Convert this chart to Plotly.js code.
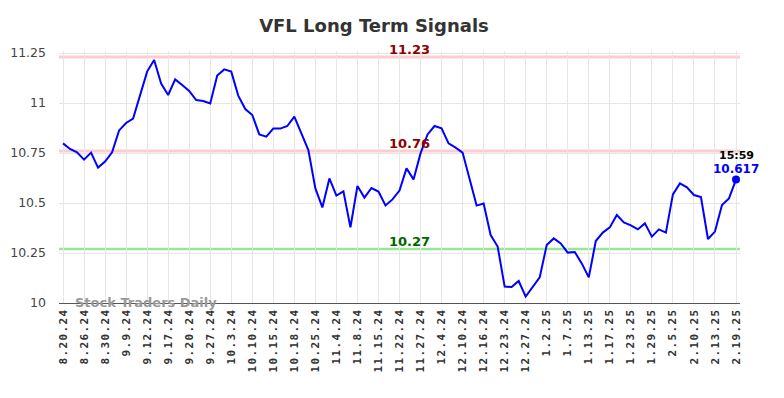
<!DOCTYPE html>
<html>
<head>
<meta charset="utf-8">
<script src="https://cdn.plot.ly/plotly-3.0.1.min.js"></script>
<style>
html,body{margin:0;padding:0;background:#fff;}
#chart{width:784px;height:398px;}
.xtick text{letter-spacing:1.4px;}
</style>
</head>
<body>
<div id="chart"></div>
<script>
const prices = [
  10.798, 10.770, 10.753, 10.717, 10.752, 10.677, 10.707, 10.753, 10.863, 10.900,
  10.922, 11.040, 11.157, 11.215, 11.097, 11.040, 11.118, 11.090, 11.060, 11.015,
  11.010, 10.998, 11.137, 11.168, 11.157, 11.037, 10.970, 10.940, 10.843, 10.832,
  10.872, 10.872, 10.885, 10.932, 10.850, 10.765, 10.573, 10.478, 10.623, 10.537,
  10.558, 10.378, 10.585, 10.527, 10.575, 10.557, 10.488, 10.518, 10.562, 10.673,
  10.618, 10.748, 10.843, 10.885, 10.873, 10.798, 10.777, 10.752, 10.620, 10.487,
  10.497, 10.340, 10.282, 10.082, 10.080, 10.110, 10.032, 10.082, 10.128, 10.290,
  10.323, 10.298, 10.252, 10.255, 10.198, 10.128, 10.310, 10.352, 10.378, 10.440,
  10.403, 10.388, 10.368, 10.398, 10.332, 10.368, 10.352, 10.543, 10.598, 10.578,
  10.540, 10.530, 10.320, 10.357, 10.490, 10.523, 10.617
];
// Tick labels, one every third point
const tickLabels = [
  "8.20.24","8.26.24","8.30.24","9.9.24","9.12.24","9.17.24","9.20.24","9.27.24",
  "10.3.24","10.10.24","10.15.24","10.18.24","10.25.24","11.4.24","11.8.24","11.15.24",
  "11.22.24","11.27.24","12.4.24","12.10.24","12.16.24","12.23.24","12.27.24","1.2.25",
  "1.7.25","1.13.25","1.17.25","1.23.25","1.29.25","2.5.25","2.10.25","2.13.25","2.19.25"
];
const tickStep = 3;
// Signal levels
const upperLevel = 11.23;
const middleLevel = 10.76;
const lowerLevel = 10.27;
const lastTime = "15:59";

const xIdx = prices.map((_, i) => i);
const tickVals = tickLabels.map((_, i) => i * tickStep);
const lastI = prices.length - 1;

const traces = [
  {
    x: xIdx, y: prices, type: 'scatter', mode: 'lines',
    line: {color: '#0000ff', width: 2}, hoverinfo: 'skip'
  },
  {
    x: [xIdx[lastI]], y: [prices[lastI]], type: 'scatter', mode: 'markers',
    marker: {color: '#0000ff', size: 8}, hoverinfo: 'skip'
  }
];

const layout = {
  width: 784, height: 398,
  margin: {l: 59, r: 44, t: 51, b: 95},
  paper_bgcolor: '#ffffff', plot_bgcolor: '#ffffff',
  showlegend: false,
  title: {
    text: 'VFL Long Term Signals', x: 0.477, xanchor: 'center', y: 0.935, yanchor: 'middle',
    font: {family: 'DejaVu Sans', size: 18, color: '#333333', weight: 'bold'}
  },
  xaxis: {
    range: [-0.57, lastI + 0.57],
    tickmode: 'array', tickvals: tickVals, ticktext: tickLabels,
    tickangle: -90,
    tickfont: {family: 'DejaVu Sans Mono', size: 11, color: '#333333', weight: 'bold'},
    showgrid: true, gridcolor: '#e6e6e6', gridwidth: 1,
    showline: true, linecolor: '#555555', linewidth: 1,
    zeroline: false, ticks: '', ticklen: 0, fixedrange: true
  },
  yaxis: {
    range: [10, 11.26],
    tickmode: 'array', tickvals: [10, 10.25, 10.5, 10.75, 11, 11.25],
    ticktext: ['10', '10.25', '10.5', '10.75', '11', '11.25'],
    tickfont: {family: 'DejaVu Sans', size: 12.5, color: '#444444'},
    ticklabelstandoff: 12,
    showgrid: true, gridcolor: '#e6e6e6', gridwidth: 1,
    zeroline: false, showline: false, ticks: '', fixedrange: true
  },
  shapes: [
    {type: 'line', xref: 'paper', x0: 0, x1: 1, yref: 'y', y0: upperLevel, y1: upperLevel,
     line: {color: '#ffcccc', width: 3}, layer: 'below'},
    {type: 'line', xref: 'paper', x0: 0, x1: 1, yref: 'y', y0: middleLevel, y1: middleLevel,
     line: {color: '#ffcccc', width: 3}, layer: 'below'},
    {type: 'line', xref: 'paper', x0: 0, x1: 1, yref: 'y', y0: lowerLevel, y1: lowerLevel,
     line: {color: '#99e699', width: 2.5}, layer: 'below'}
  ],
  annotations: [
    {xref: 'paper', x: 0.514, yref: 'y', y: upperLevel, yshift: 8, text: upperLevel.toFixed(2),
     showarrow: false, font: {family: 'DejaVu Sans', size: 13, color: '#8b0000', weight: 'bold'}},
    {xref: 'paper', x: 0.514, yref: 'y', y: middleLevel, yshift: 8, text: middleLevel.toFixed(2),
     showarrow: false, font: {family: 'DejaVu Sans', size: 13, color: '#8b0000', weight: 'bold'}},
    {xref: 'paper', x: 0.514, yref: 'y', y: lowerLevel, yshift: 8, text: lowerLevel.toFixed(2),
     showarrow: false, font: {family: 'DejaVu Sans', size: 13, color: '#006400', weight: 'bold'}},
    {xref: 'paper', x: 0.0206, xanchor: 'left', yref: 'y', y: 10, yanchor: 'middle', yshift: 1,
     text: 'Stock Traders Daily', showarrow: false,
     font: {family: 'DejaVu Sans', size: 13, color: '#999999', weight: 'bold'}},
    {xref: 'x', x: xIdx[lastI], yref: 'y', y: prices[lastI], yshift: 24, text: lastTime,
     showarrow: false, font: {family: 'DejaVu Sans', size: 11, color: '#000000', weight: 'bold'}},
    {xref: 'x', x: xIdx[lastI], yref: 'y', y: prices[lastI], yshift: 11, text: prices[lastI].toFixed(3),
     showarrow: false, font: {family: 'DejaVu Sans', size: 12, color: '#0000ff', weight: 'bold'}}
  ]
};

Plotly.newPlot('chart', traces, layout, {displayModeBar: false, staticPlot: true});
</script>
</body>
</html>
